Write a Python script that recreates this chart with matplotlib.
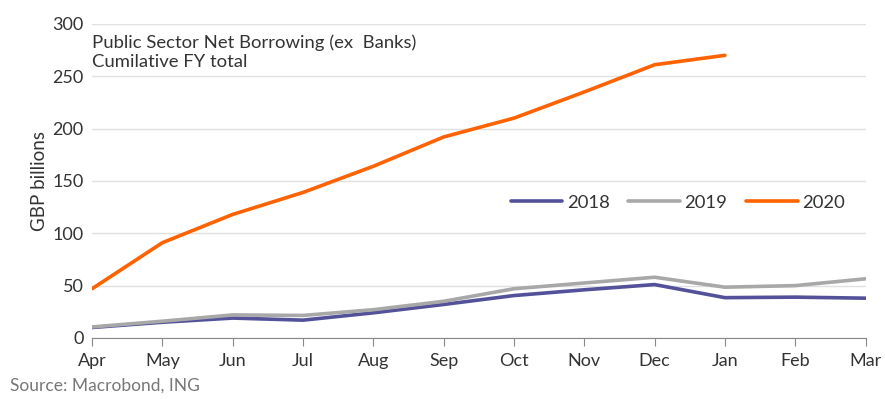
import matplotlib.pyplot as plt

plt.rcParams['font.family'] = ['Lato', 'DejaVu Sans']

months = ['Apr', 'May', 'Jun', 'Jul', 'Aug', 'Sep', 'Oct', 'Nov', 'Dec', 'Jan', 'Feb', 'Mar']
y2018 = [10, 15, 19, 17, 24, 32, 40.5, 46, 51, 38.5, 39, 38]
y2019 = [10.5, 16, 22, 21.5, 27, 35, 47, 52.5, 58, 48.5, 50, 56.5]
y2020 = [47, 91, 118, 139, 164, 192, 210, 235, 261, 270]

txt = '#333333'

fig = plt.figure(figsize=(8.85, 3.99), dpi=100)
ax = fig.add_axes([0.104, 0.153, 0.874, 0.787])

x = list(range(len(months)))
ax.plot(x, y2018, color='#525199', lw=2.6, label='2018', solid_capstyle='round')
ax.plot(x, y2019, color='#A8A8A8', lw=2.6, label='2019', solid_capstyle='round')
ax.plot(x[:len(y2020)], y2020, color='#FF6200', lw=2.6, label='2020', solid_capstyle='round')

ax.set_xlim(0, len(months) - 1)
ax.set_ylim(0, 300)
ax.set_yticks(range(0, 301, 50))
ax.set_xticks(x)
ax.set_xticklabels(months)
ax.grid(axis='y', color='#E0E0E0', lw=1)
ax.set_axisbelow(True)
for s in ['left', 'right', 'top']:
    ax.spines[s].set_visible(False)
ax.spines['bottom'].set_color('#888888')
ax.tick_params(axis='x', colors='#888888', length=6, labelcolor=txt, labelsize=13, pad=5)
ax.tick_params(axis='y', length=0, labelcolor=txt, labelsize=13, pad=6)
ax.set_ylabel('GBP billions', color=txt, fontsize=13.5, labelpad=3)

ax.text(0.0, 0.965, 'Public Sector Net Borrowing (ex  Banks)\nCumilative FY total',
        transform=ax.transAxes, ha='left', va='top', fontsize=13.3, color=txt, linespacing=1.2)

ax.legend(loc='center right', bbox_to_anchor=(0.995, 0.43), ncol=3, frameon=False,
          fontsize=13.3, labelcolor=txt, handlelength=2.8, handletextpad=0.25, columnspacing=1.0)

fig.text(0.011, 0.022, 'Source: Macrobond, ING', color='#777777', fontsize=12.5)

fig.savefig('out.png', dpi=100)
